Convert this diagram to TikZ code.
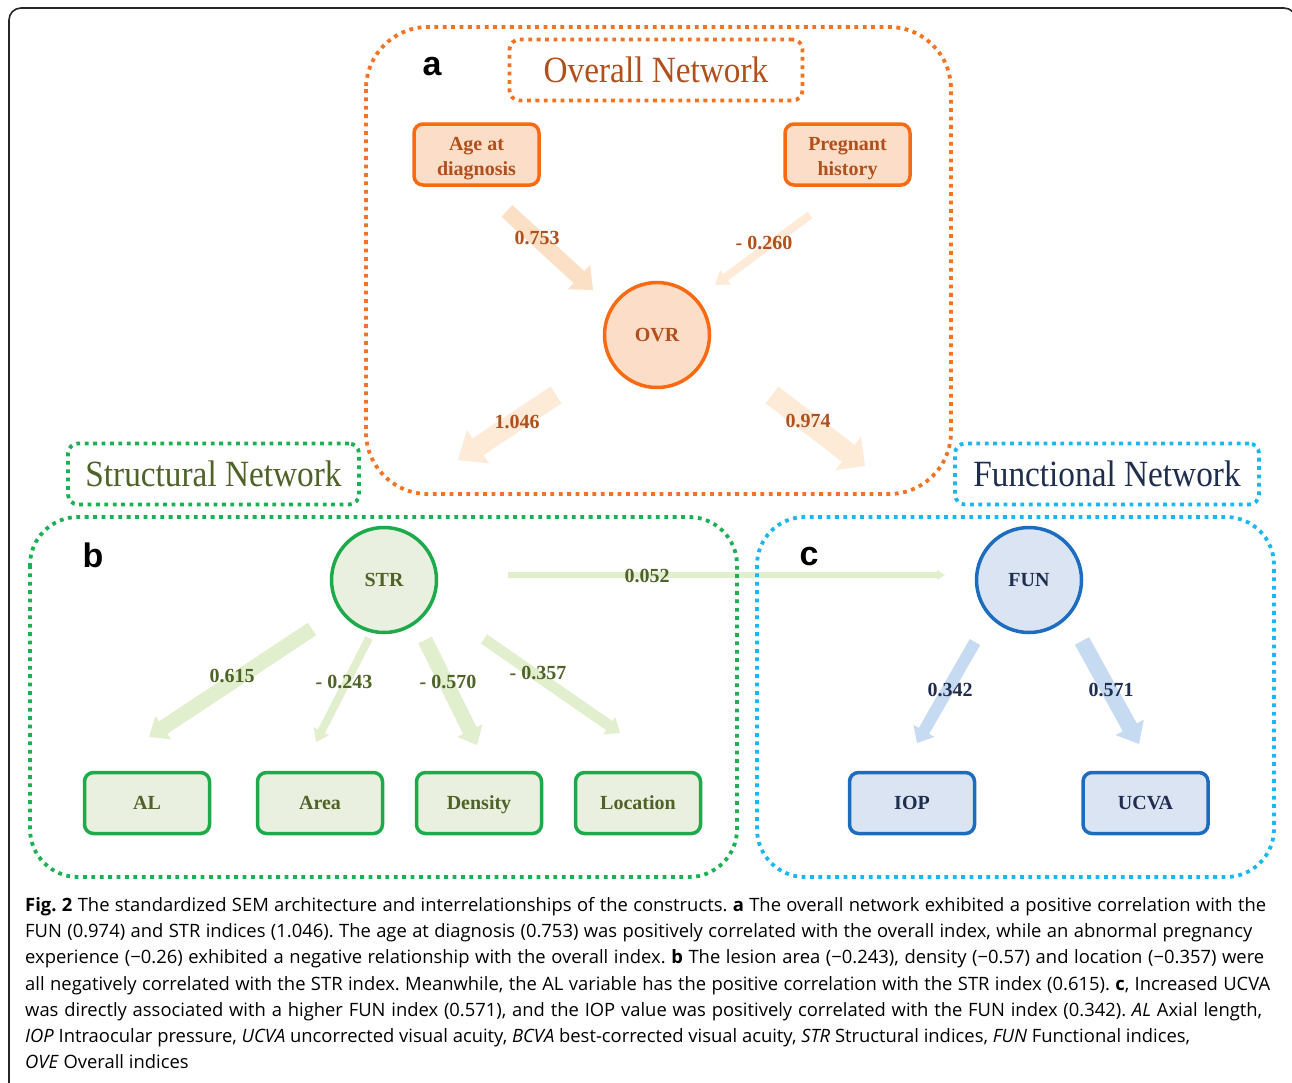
\documentclass[tikz,border=0pt]{standalone}
\usepackage{fontspec}
\setmainfont{Liberation Serif}
\newfontfamily\capfont{Open Sans}
\newfontfamily\letterfont{Liberation Sans}
\usetikzlibrary{calc}
\definecolor{ovline}{HTML}{FA6A12}
\definecolor{ovfill}{HTML}{FCDDC7}
\definecolor{ovtext}{HTML}{B0501C}
\definecolor{ovdot}{HTML}{F47321}
\definecolor{ovarr}{HTML}{FCE0C6}
\definecolor{ovarrl}{HTML}{FDEAD7}
\definecolor{stline}{HTML}{1DAA4B}
\definecolor{stfill}{HTML}{EAF0DF}
\definecolor{sttext}{HTML}{4F6228}
\definecolor{stdot}{HTML}{1CB053}
\definecolor{starr}{HTML}{E1EFCF}
\definecolor{fuline}{HTML}{1C6CC0}
\definecolor{fufill}{HTML}{DBE4F2}
\definecolor{futext}{HTML}{1F2D4F}
\definecolor{fudot}{HTML}{19B8F5}
\definecolor{fuarr}{HTML}{C6DAF1}
\newcommand{\barrow}[6]{%
  \coordinate (hb) at ($(#3)!#6!(#2)$);
  \fill[#1] ($(#2)!#4!90:(#3)$) -- ($(hb)!#4!90:(#3)$) -- ($(hb)!#5!90:(#3)$) -- (#3)
    -- ($(hb)!#5!-90:(#3)$) -- ($(hb)!#4!-90:(#3)$) -- ($(#2)!#4!-90:(#3)$) -- cycle;}
\begin{document}
\begin{tikzpicture}[x=1pt,y=-1pt,
  dotbox/.style={line width=3.8pt, dash pattern=on 3.8pt off 4.6pt},
  titlebox/.style={dotbox, rounded corners=10pt, minimum width=292pt, minimum height=61pt, inner sep=0pt, font=\fontsize{37}{40}\selectfont},
  rbox/.style={line width=3.5pt, rounded corners=9pt, minimum width=125pt, minimum height=61pt, inner sep=0pt, align=center, font=\bfseries\fontsize{20}{25}\selectfont},
  one/.style={text height=13.5pt, text depth=0pt},
  rcirc/.style={circle, line width=3.5pt, minimum size=105pt, inner sep=0pt, text height=13.5pt, text depth=0pt, font=\bfseries\fontsize{20}{24}\selectfont},
  ovb/.style={draw=ovline, fill=ovfill, text=ovtext},
  stb/.style={draw=stline, fill=stfill, text=sttext},
  fub/.style={draw=fuline, fill=fufill, text=futext},
  two/.style={align=center, inner sep=0pt, yshift=-4pt, font=\bfseries\fontsize{20}{25}\selectfont},
  lab/.style={inner sep=1pt, font=\bfseries\fontsize{20}{24}\selectfont},
  plet/.style={inner sep=0pt, font=\letterfont\bfseries\fontsize{34}{36}\selectfont},
  capline/.style={anchor=base west, inner sep=0pt, font=\capfont\fontsize{18.4}{20}\selectfont\frenchspacing}
]
\useasboundingbox (0,0) rectangle (1292,1082);
\clip (0,0) rectangle (1292,1082);
\fill[white] (0,0) rectangle (1292,1082);
% outer frame
\draw[line width=1.6pt, black!85, rounded corners=12pt] (9,1100) -- (9,8) -- (1296,8) -- (1296,1100);

% arrow coordinates
\coordinate (a1s) at (507,211); \coordinate (a1t) at (593,290);
\coordinate (a2s) at (810,215); \coordinate (a2t) at (715,285);
\coordinate (a3s) at (556,395); \coordinate (a3t) at (458,460);
\coordinate (a4s) at (772,395); \coordinate (a4t) at (865,466);
\coordinate (b1s) at (312,629); \coordinate (b1t) at (149,737);
\coordinate (b2s) at (369,638); \coordinate (b2t) at (316,742);
\coordinate (b3s) at (425,640); \coordinate (b3t) at (477,745);
\coordinate (b4s) at (484,639); \coordinate (b4t) at (620,733);
\coordinate (b5s) at (508,575); \coordinate (b5t) at (945,575);
\coordinate (c1s) at (975,642); \coordinate (c1t) at (917,743);
\coordinate (c2s) at (1082,641); \coordinate (c2t) at (1139,744);

% block arrows
\barrow{ovarr}{a1s}{a1t}{8pt}{16.5pt}{19pt}
\barrow{ovarrl}{a2s}{a2t}{4pt}{9pt}{13pt}
\barrow{ovarrl}{a3s}{a3t}{10pt}{20pt}{24pt}
\barrow{ovarrl}{a4s}{a4t}{10.5pt}{21pt}{21pt}
\barrow{starr}{b1s}{b1t}{7.5pt}{14pt}{17pt}
\barrow{starr}{b2s}{b2t}{4pt}{8.5pt}{12pt}
\barrow{starr}{b3s}{b3t}{7.5pt}{14pt}{16pt}
\barrow{starr}{b4s}{b4t}{5.5pt}{10.5pt}{13pt}
\barrow{starr}{b5s}{b5t}{3pt}{5pt}{8pt}
\barrow{fuarr}{c1s}{c1t}{6pt}{12pt}{14pt}
\barrow{fuarr}{c2s}{c2t}{8pt}{16pt}{19pt}

% panel frames
\draw[dotbox, draw=ovdot, rounded corners=62pt] (366,27) rectangle (951,494);
\draw[dotbox, draw=stdot, rounded corners=48pt] (30,517) rectangle (737,877);
\draw[dotbox, draw=fudot, rounded corners=48pt] (757,517) rectangle (1274,877);

% titles
\node[titlebox, draw=ovdot, minimum width=293pt, text=ovtext] (tA) at (656,70) {\scalebox{0.9}[1]{Overall Network}};
\node[titlebox, draw=stdot, minimum width=291pt, text=sttext] (tB) at (213.5,474) {\scalebox{0.9}[1]{Structural Network}};
\node[titlebox, draw=fudot, minimum width=304pt, text=futext] (tC) at (1107,474) {\scalebox{0.9}[1]{Functional Network}};

% panel letters
\node[plet] (pa) at (432,67) {a};
\node[plet] (pb) at (93,555) {b};
\node[plet] (pc) at (809,557) {c};

% panel a nodes
\node[rbox, ovb, label={[two, text=ovtext]center:{Age at\\diagnosis}}] (age) at (476.5,154.5) {};
\node[rbox, ovb, label={[two, text=ovtext]center:{Pregnant\\history}}] (preg) at (847.5,154.5) {};
\node[rcirc, ovb] (ovr) at (657,335) {OVR};

% panel b nodes
\node[rcirc, stb] (str) at (384,580) {STR};
\node[rbox, one, stb] (al) at (147,803) {AL};
\node[rbox, one, stb] (area) at (320,803) {Area};
\node[rbox, one, stb] (dens) at (479,803) {Density};
\node[rbox, one, stb] (loc) at (638,803) {Location};

% panel c nodes
\node[rcirc, fub] (fun) at (1029,580) {FUN};
\node[rbox, one, fub] (iop) at (912,803) {IOP};
\node[rbox, one, fub] (ucva) at (1145.5,803) {UCVA};

% coefficient labels
\node[lab, text=ovtext] (l1) at (537,238) {0.753};
\node[lab, text=ovtext] (l2) at (764,243) {- 0.260};
\node[lab, text=ovtext] (l3) at (517,422) {1.046};
\node[lab, text=ovtext] (l4) at (808,421) {0.974};
\node[lab, text=sttext] (l5) at (232,676) {0.615};
\node[lab, text=sttext] (l6) at (344,682) {- 0.243};
\node[lab, text=sttext] (l7) at (448,682) {- 0.570};
\node[lab, text=sttext] (l8) at (538,673) {- 0.357};
\node[lab, text=sttext] (l9) at (647,576) {0.052};
\node[lab, text=futext] (l10) at (950,690) {0.342};
\node[lab, text=futext] (l11) at (1111,690) {0.571};

% caption
\node[capline] (cap1) at (25,911.5) {\hbox to 1241pt{\textbf{Fig. 2} The standardized SEM architecture and interrelationships of the constructs. \textbf{a} The overall network exhibited a positive correlation with the}};
\node[capline] (cap2) at (25,937.7) {\hbox to 1227pt{FUN (0.974) and STR indices (1.046). The age at diagnosis (0.753) was positively correlated with the overall index, while an abnormal pregnancy}};
\node[capline] (cap3) at (25,963.9) {\hbox to 1239pt{experience (−0.26) exhibited a negative relationship with the overall index. \textbf{b} The lesion area (−0.243), density (−0.57) and location (−0.357) were}};
\node[capline] (cap4) at (25,990.1) {\hbox to 1245pt{all negatively correlated with the STR index. Meanwhile, the AL variable has the positive correlation with the STR index (0.615). \textbf{c}, Increased UCVA}};
\node[capline] (cap5) at (25,1016.3) {\hbox to 1237pt{was directly associated with a higher FUN index (0.571), and the IOP value was positively correlated with the FUN index (0.342). \textit{AL} Axial length,}};
\node[capline] (cap6) at (25,1042.5) {\textit{IOP} Intraocular pressure, \textit{UCVA} uncorrected visual acuity, \textit{BCVA} best-corrected visual acuity, \textit{STR} Structural indices, \textit{FUN} Functional indices,};
\node[capline] (cap7) at (25,1068.7) {\textit{OVE} Overall indices};
\end{tikzpicture}
\end{document}
